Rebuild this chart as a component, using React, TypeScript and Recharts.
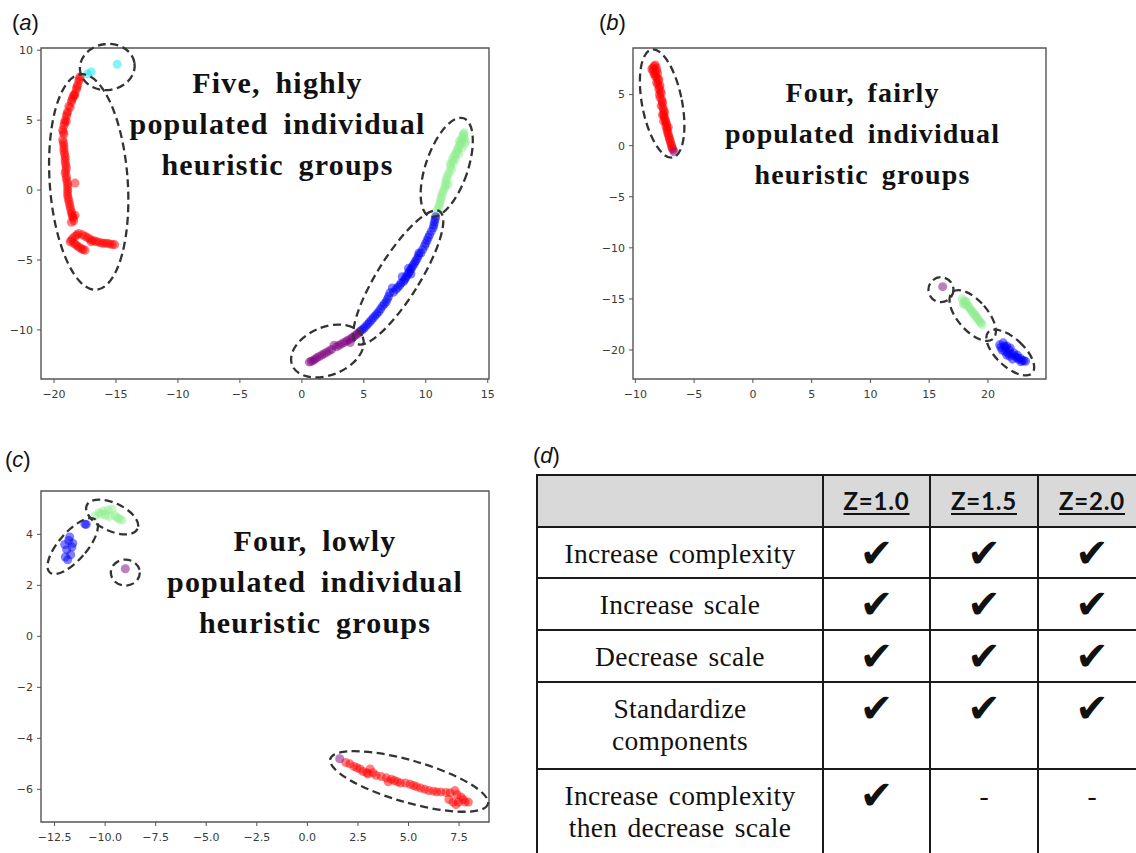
import React from "react";
import { ScatterChart, Scatter, XAxis, YAxis, ZAxis, ReferenceArea, ReferenceDot } from "recharts";

type P = { x: number; y: number };
const pts = (a: number[][]): P[] => a.map(([x, y]) => ({ x, y }));

// ---------- Panel (a) ----------
const redA = pts([
  [-17.9, 8.1], [-17.95, 7.95], [-18.0, 7.8], [-18.1, 7.5], [-18.15, 7.35], [-18.2, 7.2], [-18.3, 6.9], [-18.35, 6.75],
  [-18.4, 6.8], [-18.5, 6.6], [-18.55, 6.45], [-18.6, 6.3], [-18.7, 5.9], [-18.8, 6.0], [-18.9, 5.6], [-18.95, 5.45],
  [-19.0, 5.3], [-19.0, 4.9], [-19.1, 5.0], [-19.15, 4.8], [-19.2, 4.6], [-19.3, 4.3], [-19.25, 4.15], [-19.2, 4.0],
  [-19.3, 3.6], [-19.25, 3.4], [-19.2, 3.2], [-19.2, 3.0], [-19.2, 2.8], [-19.15, 2.6], [-19.1, 2.4], [-19.1, 2.2],
  [-19.1, 2.0], [-19.05, 1.8], [-19.0, 1.6], [-19.05, 1.4], [-19.1, 1.2], [-19.0, 1.0], [-19.0, 0.8], [-18.95, 0.6],
  [-18.9, 0.4], [-18.3, 0.5], [-18.9, 0.2], [-18.9, 0.0], [-18.9, -0.2], [-18.9, -0.4], [-18.85, -0.6], [-18.8, -0.8],
  [-18.75, -1.0], [-18.7, -1.2], [-18.65, -1.4], [-18.6, -1.6], [-18.55, -1.75], [-18.5, -1.9], [-18.45, -2.0],
  [-18.3, -1.8], [-18.6, -2.3], [-18.4, -2.2],
  [-18.6, -3.6], [-18.5, -3.45], [-18.3, -3.3], [-18.15, -3.2], [-18.0, -3.1], [-17.7, -3.2], [-17.5, -3.3],
  [-17.3, -3.4], [-17.1, -3.5], [-16.9, -3.6], [-16.7, -3.65], [-16.5, -3.7], [-16.3, -3.75], [-16.1, -3.8],
  [-15.9, -3.8], [-15.7, -3.8], [-15.5, -3.85], [-15.3, -3.9], [-15.1, -3.9], [-18.4, -3.8], [-18.25, -3.9],
  [-18.1, -4.0], [-17.95, -4.1], [-17.8, -4.2], [-17.65, -4.25], [-17.5, -4.3], [-18.7, -3.7], [-17.0, -3.7],
]);
const cyanA = pts([[-17.3, 8.3], [-17.0, 8.45], [-14.9, 9.0]]);
const greenA = pts([
  [10.9, -1.5], [11.0, -1.3], [11.1, -1.1], [11.15, -0.9], [11.2, -0.7], [11.25, -0.5], [11.3, -0.3], [11.4, -0.1],
  [11.5, 0.1], [11.55, 0.3], [11.6, 0.5], [11.8, 0.4], [11.65, 0.7], [11.7, 0.9], [11.8, 1.1], [11.9, 1.3],
  [12.1, 1.5], [12.0, 1.7], [12.0, 1.9], [12.2, 2.0], [12.15, 2.2], [12.4, 2.2], [12.3, 2.4], [12.35, 2.55],
  [12.65, 2.6], [12.5, 2.7], [12.55, 2.85], [12.6, 3.0], [12.9, 3.0], [12.7, 3.15], [12.8, 3.3], [13.15, 3.3],
  [12.85, 3.45], [12.7, 3.5], [13.2, 3.5], [12.9, 3.6], [13.1, 3.7], [13.0, 3.75], [13.0, 3.9], [13.05, 4.0],
  [13.1, 4.1],
]);
const blueA = pts([
  [10.8, -1.9], [10.75, -2.1], [10.7, -2.3], [10.65, -2.5], [10.6, -2.7], [10.45, -2.95], [10.3, -3.2],
  [10.2, -3.4], [10.1, -3.6], [10.0, -3.8], [9.9, -4.0], [9.75, -4.25], [9.6, -4.5], [9.45, -4.5], [9.4, -4.7],
  [9.3, -4.9], [9.2, -5.05], [9.1, -5.2], [9.0, -5.35], [8.9, -5.5], [8.6, -5.6], [8.8, -5.65], [8.7, -5.8],
  [8.6, -5.95], [8.8, -6.0], [8.5, -6.1], [8.1, -6.2], [8.4, -6.25], [8.3, -6.4], [8.2, -6.55], [8.0, -6.65],
  [7.9, -6.8], [7.75, -6.95], [7.3, -7.0], [7.6, -7.1], [7.4, -7.3], [7.1, -7.35], [7.0, -7.6], [6.9, -7.8],
  [6.8, -8.0], [6.65, -8.15], [6.5, -8.3], [6.35, -8.5], [6.2, -8.7], [6.05, -8.85], [5.9, -9.0], [5.75, -9.15],
  [5.6, -9.3], [5.45, -9.45], [5.3, -9.6], [5.15, -9.75], [5.0, -9.9], [4.85, -10.0], [4.7, -10.1],
]);
const purpleA = pts([
  [4.6, -10.2], [4.45, -10.3], [4.3, -10.4], [4.15, -10.5], [4.0, -10.6], [3.9, -10.9], [3.8, -10.7], [3.6, -10.8],
  [3.4, -10.9], [3.2, -11.0], [3.0, -11.1], [2.8, -11.2], [2.6, -11.1], [2.4, -11.4], [2.2, -11.5], [2.0, -11.6],
  [1.8, -11.7], [1.6, -11.8], [1.4, -11.9], [1.2, -12.0], [1.05, -12.1], [0.9, -12.2], [0.75, -12.25], [0.6, -12.3],
]);

// ---------- Panel (b) ----------
const redB = pts([
  [-8.4, 7.8], [-8.3, 7.9], [-8.2, 7.6], [-8.5, 7.6], [-8.6, 7.5], [-8.5, 7.3], [-8.2, 7.35], [-8.1, 7.1],
  [-8.3, 7.0], [-8.4, 7.0], [-8.3, 6.8], [-8.15, 6.65], [-8.0, 6.5], [-8.05, 6.35], [-8.2, 6.2], [-8.1, 6.0],
  [-7.9, 5.9], [-7.95, 5.7], [-8.0, 5.5], [-7.85, 5.3], [-7.8, 5.1], [-7.95, 5.0], [-7.9, 4.7], [-7.75, 4.5],
  [-7.7, 4.3], [-7.7, 4.1], [-7.8, 3.9], [-7.65, 3.7], [-7.6, 3.5], [-7.5, 3.3], [-7.6, 3.1], [-7.7, 3.0],
  [-7.55, 2.9], [-7.5, 2.7], [-7.45, 2.5], [-7.6, 2.4], [-7.4, 2.3], [-7.35, 2.1], [-7.4, 1.9], [-7.2, 1.8],
  [-7.3, 1.7], [-7.3, 1.5], [-7.25, 1.3], [-7.2, 1.1], [-7.15, 0.9], [-7.1, 0.7], [-7.05, 0.5], [-7.0, 0.3],
  [-6.95, 0.1], [-6.9, -0.1], [-6.85, -0.25], [-6.8, -0.4],
]);
const purpleB = pts([[16.15, -13.8], [-6.7, -0.6]]);
const greenB = pts([
  [17.8, -15.0], [18.1, -15.2], [17.95, -15.25], [18.2, -15.4], [17.9, -15.5], [18.05, -15.55], [18.3, -15.7],
  [18.4, -15.85], [18.5, -16.0], [18.6, -16.15], [18.7, -16.3], [18.8, -16.45], [18.9, -16.6], [19.0, -16.75],
  [19.1, -16.9], [19.2, -17.05], [19.3, -17.2], [19.4, -17.35], [19.5, -17.5],
]);
const blueB = pts([
  [21.0, -19.5], [21.3, -19.3], [21.4, -19.6], [21.6, -19.6], [21.5, -19.8], [21.1, -19.75], [21.9, -19.8],
  [21.2, -20.0], [21.8, -20.0], [21.45, -20.15], [21.7, -20.3], [22.2, -20.3], [22.0, -20.4], [21.6, -20.5],
  [22.5, -20.5], [21.85, -20.6], [22.3, -20.6], [22.45, -20.75], [22.75, -20.8], [22.1, -20.9], [22.6, -20.9],
  [22.9, -21.0], [23.05, -21.05], [23.2, -21.1], [22.8, -21.15],
]);

// ---------- Panel (c) ----------
const blueC = pts([
  [-11.8, 3.76], [-11.75, 3.9], [-11.6, 3.65], [-11.97, 3.11], [-11.64, 3.5], [-10.93, 4.39], [-12.0, 3.6],
  [-11.7, 3.2], [-11.9, 3.4], [-11.0, 4.4], [-11.85, 3.0],
]);
const greenC = pts([
  [-10.49, 4.73], [-10.3, 4.85], [-10.2, 4.8], [-10.08, 4.92], [-9.85, 4.95], [-9.66, 4.98], [-9.5, 4.73],
  [-9.4, 4.65], [-9.3, 4.6], [-9.17, 4.56], [-9.8, 4.7], [-10.0, 4.75],
]);
const purpleC = pts([[-9.0, 2.65], [1.6, -4.8]]);
const redC = pts([
  [1.9, -4.95], [2.1, -5.0], [2.3, -5.1], [2.45, -5.15], [2.6, -5.2], [2.75, -5.3], [2.94, -5.35], [3.0, -5.4],
  [3.1, -5.2], [3.25, -5.35], [3.4, -5.45], [3.65, -5.5], [3.9, -5.55], [4.0, -5.7], [4.15, -5.6], [4.3, -5.65],
  [4.45, -5.7], [4.6, -5.75], [4.85, -5.75], [5.08, -5.8], [5.25, -5.85], [5.4, -5.9], [5.6, -5.95], [5.8, -6.0],
  [6.0, -6.05], [6.23, -6.07], [6.4, -6.1], [6.6, -6.1], [6.85, -6.12], [7.06, -6.13], [7.3, -6.05], [7.4, -6.2],
  [7.47, -6.5], [7.6, -6.3], [7.7, -6.4], [7.8, -6.5], [7.96, -6.5], [7.35, -6.6], [7.2, -6.5], [7.0, -6.4],
]);

// ---------- Axis ticks ----------
const xTicksA = [-20, -15, -10, -5, 0, 5, 10, 15];
const yTicksA = [-10, -5, 0, 5, 10];
const xTicksB = [-10, -5, 0, 5, 10, 15, 20];
const yTicksB = [-20, -15, -10, -5, 0, 5];
const xTicksC = [-12.5, -10, -7.5, -5, -2.5, 0, 2.5, 5, 7.5];
const yTicksC = [-6, -4, -2, 0, 2, 4];

// ---------- Cluster outlines (annotations: centre in data units) ----------
type E = { x: number; y: number; rx: number; ry: number; angle: number };
const ellipsesA: E[] = [
  { x: -15.7, y: 8.8, rx: 27.5, ry: 23, angle: -8 },
  { x: -17.2, y: 0.58, rx: 39, ry: 108, angle: -4 },
  { x: 11.69, y: 1.62, rx: 21, ry: 52, angle: 19 },
  { x: 7.78, y: -6.25, rx: 21, ry: 78, angle: 32 },
  { x: 2.06, y: -11.51, rx: 38, ry: 24, angle: -22 },
];
const ellipsesB: E[] = [
  { x: -7.72, y: 4.12, rx: 20, ry: 55, angle: -11 },
  { x: 16.0, y: -14.1, rx: 12.5, ry: 12.5, angle: 0 },
  { x: 18.7, y: -16.63, rx: 15, ry: 31, angle: -41 },
  { x: 21.9, y: -20.25, rx: 14, ry: 30, angle: -47 },
];
const ellipsesC: E[] = [
  { x: -11.6, y: 3.54, rx: 14, ry: 35, angle: 41 },
  { x: -9.65, y: 4.68, rx: 28, ry: 14, angle: 25 },
  { x: -9.0, y: 2.5, rx: 14.5, ry: 13, angle: 0 },
  { x: 5.03, y: -5.69, rx: 82, ry: 21, angle: 16 },
];

// ---------- Table (d) ----------
const zColumns = ["Z=1.0", "Z=1.5", "Z=2.0"];
const rowLabels = [
  ["Increase complexity"],
  ["Increase scale"],
  ["Decrease scale"],
  ["Standardize", "components"],
  ["Increase complexity", "then decrease scale"],
];
const marks = [
  [true, true, true],
  [true, true, true],
  [true, true, true],
  [true, true, true],
  [true, false, false],
];

const COLORS = {
  red: "#ff0000",
  cyan: "#10e6f0",
  green: "#90ee90",
  blue: "#0000ff",
  purple: "#800080",
};

const fmtInt = (v: number) => (v < 0 ? "\u2212" + Math.abs(v) : String(v));
const fmtDec = (v: number) => (v < 0 ? "\u2212" + Math.abs(v).toFixed(1) : v.toFixed(1));

const tickStyle = { fill: "#3a3a3a", fontSize: 11, fontFamily: "DejaVu Sans" };

function ellipseShape(e: E) {
  return (p: any) => (
    <ellipse
      cx={p.cx}
      cy={p.cy}
      rx={e.rx}
      ry={e.ry}
      transform={`rotate(${e.angle} ${p.cx} ${p.cy})`}
      fill="none"
      stroke="#333"
      strokeWidth={2.3}
      strokeDasharray="8 4.5"
    />
  );
}

type Series = { data: P[]; color: string };

function Panel(props: {
  left: number;
  top: number;
  width: number;
  height: number;
  marginTop: number;
  yWidth: number;
  xDomain: [number, number];
  yDomain: [number, number];
  xTicks: number[];
  yTicks: number[];
  xFmt: (v: number) => string;
  series: Series[];
  ellipses: E[];
}) {
  const { xDomain, yDomain } = props;
  return (
    <div style={{ position: "absolute", left: props.left, top: props.top }}>
      <ScatterChart
        width={props.width}
        height={props.height}
        margin={{ top: props.marginTop, right: 10, bottom: 0, left: 0 }}
      >
        <XAxis
          type="number"
          dataKey="x"
          domain={xDomain}
          allowDataOverflow
          ticks={props.xTicks}
          interval={0}
          tickFormatter={props.xFmt}
          axisLine={false}
          tickLine={{ stroke: "#555", strokeWidth: 1 }}
          tickSize={4}
          tickMargin={7}
          height={31}
          tick={tickStyle}
        />
        <YAxis
          type="number"
          dataKey="y"
          domain={yDomain}
          allowDataOverflow
          ticks={props.yTicks}
          interval={0}
          tickFormatter={fmtInt}
          axisLine={false}
          tickLine={{ stroke: "#555", strokeWidth: 1 }}
          tickSize={4}
          tickMargin={4}
          width={props.yWidth}
          tick={tickStyle}
        />
        <ZAxis range={[80, 80]} />
        <ReferenceArea
          x1={xDomain[0]}
          x2={xDomain[1]}
          y1={yDomain[0]}
          y2={yDomain[1]}
          fill="none"
          fillOpacity={0}
          stroke="#555"
          strokeWidth={1.4}
          ifOverflow="visible"
        />
        {props.series.map((s, i) => (
          <Scatter
            key={i}
            data={s.data}
            fill={s.color}
            fillOpacity={0.5}
            isAnimationActive={false}
          />
        ))}
        {props.ellipses.map((e, i) => (
          <ReferenceDot
            key={"e" + i}
            x={e.x}
            y={e.y}
            r={1}
            ifOverflow="visible"
            shape={ellipseShape(e)}
          />
        ))}
      </ScatterChart>
    </div>
  );
}

const bigText: React.CSSProperties = {
  position: "absolute",
  width: 420,
  textAlign: "center",
  fontFamily: "Liberation Serif",
  fontWeight: "bold",
  lineHeight: "41px",
  color: "#111",
  whiteSpace: "nowrap",
};

function Label(props: { left: number; top: number; letter: string }) {
  return (
    <div
      style={{
        position: "absolute",
        left: props.left,
        top: props.top,
        fontFamily: "Liberation Sans",
        fontSize: 22,
        lineHeight: "26px",
        color: "#111",
      }}
    >
      (<i>{props.letter}</i>)
    </div>
  );
}

function Table() {
  const xs = [537, 823, 930, 1038, 1146];
  const ys = [475, 527, 578, 630, 682, 769, 880];
  const lineColor = "#1a1a1a";
  const els: React.ReactNode[] = [];
  els.push(
    <div key="hb" style={{ position: "absolute", left: xs[0], top: ys[0], width: xs[4] - xs[0], height: ys[1] - ys[0], background: "#d9d9d9" }} />
  );
  zColumns.forEach((z, i) => {
    els.push(
      <div
        key={"h" + i}
        style={{
          position: "absolute",
          left: xs[i + 1],
          width: xs[i + 2] - xs[i + 1],
          top: ys[0] + 10,
          textAlign: "center",
          fontFamily: "Lato",
          fontWeight: "bold",
          fontSize: 24,
          letterSpacing: "0.8px",
          lineHeight: "32px",
          color: "#111",
          textDecoration: "underline",
          textDecorationThickness: "2px",
          textUnderlineOffset: "3px",
        }}
      >
        {z}
      </div>
    );
  });
  rowLabels.forEach((lines, r) => {
    els.push(
      <div
        key={"r" + r}
        style={{
          position: "absolute",
          left: xs[0],
          width: xs[1] - xs[0],
          top: ys[r + 1] + 11,
          textAlign: "center",
          fontFamily: "Liberation Serif",
          fontSize: 27.5,
          lineHeight: "32px",
          letterSpacing: "0.3px",
          wordSpacing: "3px",
          color: "#111",
        }}
      >
        {lines.map((l, k) => (
          <div key={k}>{l}</div>
        ))}
      </div>
    );
    marks[r].forEach((m, c) => {
      els.push(
        <div
          key={"m" + r + "_" + c}
          style={{
            position: "absolute",
            left: xs[c + 1],
            width: xs[c + 2] - xs[c + 1],
            top: m ? ys[r + 1] + 8 : ys[r + 1] + 11,
            textAlign: "center",
            fontFamily: m ? "DejaVu Sans" : "Liberation Serif",
            fontSize: m ? 40 : 27.5,
            lineHeight: m ? "36px" : "32px",
            color: "#111",
          }}
        >
          {m ? "\u2714" : "-"}
        </div>
      );
    });
  });
  ys.slice(0, 6).forEach((y, i) =>
    els.push(<div key={"hl" + i} style={{ position: "absolute", left: xs[0] - 1, top: y - 1, width: xs[4] - xs[0] + 2, height: 2, background: lineColor }} />)
  );
  xs.forEach((x, i) =>
    els.push(<div key={"vl" + i} style={{ position: "absolute", left: x - 1, top: ys[0] - 1, width: 2, height: ys[6] - ys[0], background: lineColor }} />)
  );
  return <>{els}</>;
}

export default function App() {
  return (
    <div
      style={{
        position: "absolute",
        left: 0,
        top: 0,
        width: 1136,
        height: 853,
        overflow: "hidden",
        background: "#fff",
      }}
    >
      <Panel
        left={0}
        top={0}
        width={499}
        height={410}
        marginTop={48}
        yWidth={41}
        xDomain={[-21.05, 15.1]}
        yDomain={[-13.51, 10.16]}
        xTicks={xTicksA}
        yTicks={yTicksA}
        xFmt={fmtInt}
        series={[
          { data: redA, color: COLORS.red },
          { data: cyanA, color: COLORS.cyan },
          { data: greenA, color: COLORS.green },
          { data: blueA, color: COLORS.blue },
          { data: purpleA, color: COLORS.purple },
        ]}
        ellipses={ellipsesA}
      />
      <Panel
        left={590}
        top={0}
        width={466}
        height={410}
        marginTop={48}
        yWidth={43}
        xDomain={[-10.2, 24.94]}
        yDomain={[-22.84, 9.56]}
        xTicks={xTicksB}
        yTicks={yTicksB}
        xFmt={fmtInt}
        series={[
          { data: redB, color: COLORS.red },
          { data: greenB, color: COLORS.green },
          { data: blueB, color: COLORS.blue },
          { data: purpleB, color: COLORS.purple },
        ]}
        ellipses={ellipsesB}
      />
      <Panel
        left={0}
        top={440}
        width={499}
        height={413}
        marginTop={51}
        yWidth={41}
        xDomain={[-13.17, 8.98]}
        yDomain={[-7.28, 5.7]}
        xTicks={xTicksC}
        yTicks={yTicksC}
        xFmt={fmtDec}
        series={[
          { data: redC, color: COLORS.red },
          { data: greenC, color: COLORS.green },
          { data: blueC, color: COLORS.blue },
          { data: purpleC, color: COLORS.purple },
        ]}
        ellipses={ellipsesC}
      />

      <div style={{ ...bigText, left: 277.5 - 210, top: 62, fontSize: 30, letterSpacing: "1.2px", wordSpacing: "6px" }}>
        <div>Five, highly</div>
        <div>populated individual</div>
        <div>heuristic groups</div>
      </div>
      <div style={{ ...bigText, left: 862.5 - 210, top: 72, fontSize: 28, letterSpacing: "1.1px", wordSpacing: "5px" }}>
        <div>Four, fairly</div>
        <div>populated individual</div>
        <div>heuristic groups</div>
      </div>
      <div style={{ ...bigText, left: 315 - 210, top: 520, fontSize: 30, letterSpacing: "1.2px", wordSpacing: "6px" }}>
        <div>Four, lowly</div>
        <div>populated individual</div>
        <div>heuristic groups</div>
      </div>

      <Label left={12} top={10} letter="a" />
      <Label left={599} top={10} letter="b" />
      <Label left={5} top={447} letter="c" />
      <Label left={533} top={443} letter="d" />

      <Table />
    </div>
  );
}
